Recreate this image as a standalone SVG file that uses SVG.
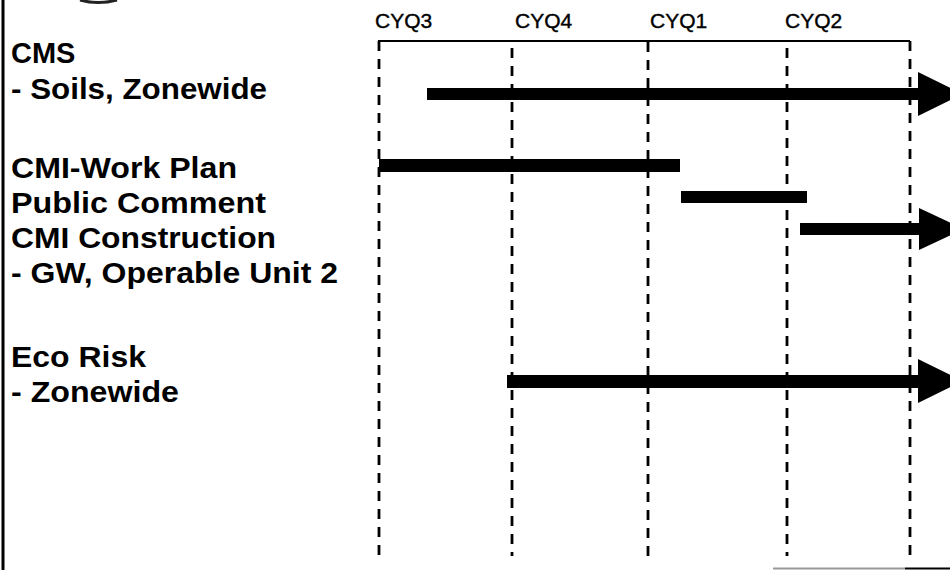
<svg xmlns="http://www.w3.org/2000/svg" width="950" height="570" viewBox="0 0 950 570">
<style>
.lbl{font-family:"Liberation Sans",Arial,sans-serif;font-weight:bold;font-size:29px;fill:#000}
.q{font-family:"Liberation Sans",Arial,sans-serif;font-size:21px;fill:#000;stroke:#000;stroke-width:0.4}
.grid{stroke:#000;stroke-width:2.8;stroke-dasharray:10 8;fill:none}
.bar{fill:#000}
</style>
<rect width="950" height="570" fill="#fff"/>
<line x1="3" y1="0" x2="3" y2="570" stroke="#000" stroke-width="3"/>
<path d="M80,0 Q98,5 117,0" stroke="#222" stroke-width="3" fill="none"/>
<line x1="773" y1="568.5" x2="905" y2="568.5" stroke="#999" stroke-width="2"/>
<line x1="905" y1="568.5" x2="950" y2="568.5" stroke="#000" stroke-width="2"/>

<g id="axis">
<text class="q" x="375" y="28">CYQ3</text>
<text class="q" x="515" y="28">CYQ4</text>
<text class="q" x="650" y="28">CYQ1</text>
<text class="q" x="785" y="28">CYQ2</text>
<line x1="378" y1="41" x2="910" y2="41" stroke="#000" stroke-width="2"/>
<line class="grid" x1="379" y1="41" x2="379" y2="556"/>
<line class="grid" x1="512" y1="48" x2="512" y2="556"/>
<line class="grid" x1="648" y1="42" x2="648" y2="556"/>
<line class="grid" x1="787" y1="48" x2="787" y2="556"/>
<line class="grid" x1="910" y1="41" x2="910" y2="556"/>
</g>

<g id="labels">
<text class="lbl" x="11" y="63">CMS</text>
<text class="lbl" x="11" y="99" textLength="256" lengthAdjust="spacingAndGlyphs">- Soils, Zonewide</text>
<text class="lbl" x="11" y="178" textLength="226" lengthAdjust="spacingAndGlyphs">CMI-Work Plan</text>
<text class="lbl" x="11" y="213" textLength="255" lengthAdjust="spacingAndGlyphs">Public Comment</text>
<text class="lbl" x="11" y="248" textLength="265" lengthAdjust="spacingAndGlyphs">CMI Construction</text>
<text class="lbl" x="11" y="283" textLength="327" lengthAdjust="spacingAndGlyphs">- GW, Operable Unit 2</text>
<text class="lbl" x="11" y="367" textLength="135" lengthAdjust="spacingAndGlyphs">Eco Risk</text>
<text class="lbl" x="11" y="402" textLength="168" lengthAdjust="spacingAndGlyphs">- Zonewide</text>
</g>

<g id="connectors">
<g id="cms-bar"><polygon class="bar" points="427,88 918,88 918,72 963,94 918,116 918,100 427,100"/></g>
<g id="cmi-work-plan-bar"><rect class="bar" x="379" y="159" width="301" height="13"/></g>
<g id="public-comment-bar"><rect class="bar" x="681" y="191" width="126" height="12"/></g>
<g id="cmi-construction-bar"><polygon class="bar" points="800,223 919,223 919,208 964,229 919,250 919,235 800,235"/></g>
<g id="eco-risk-bar"><polygon class="bar" points="507,375 918,375 918,359 963,381 918,403 918,388 507,388"/></g>
</g>
</svg>
